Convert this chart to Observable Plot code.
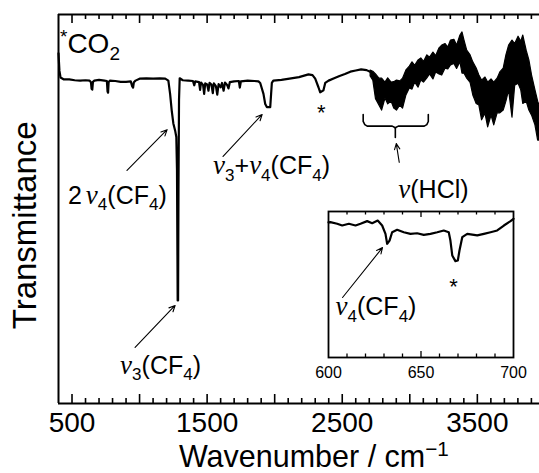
<!DOCTYPE html>
<html><head><meta charset="utf-8">
<script src="https://cdn.jsdelivr.net/npm/d3@7"></script>
<script src="https://cdn.jsdelivr.net/npm/@observablehq/plot@0.6"></script>
<style>
body{margin:0;background:#fff;overflow:hidden}
#wrap{position:relative;width:539px;height:473px;overflow:hidden;background:#fff}
#wrap svg{position:absolute;overflow:visible}
</style></head><body><div id="wrap"></div>
<script>
// ---------- spectrum (wavenumber / transmittance, arbitrary 0-100 scale) ----------
const mainWn = [400,403,407,415,440,480,520,560,600,630,640,645,650,655,665,700,740,758,763,767,771,780,820,860,900,935,945,952,958,970,1000,1050,1100,1150,1190,1213,1226,1238,1250,1263,1272,1277,1282,1285,1288,1292,1297,1320,1360,1395,1405,1412,1440,1448,1455,1470,1478,1486,1500,1510,1518,1532,1542,1550,1565,1575,1585,1600,1610,1622,1632,1648,1658,1668,1700,1735,1742,1750,1800,1850,1880,1893,1917,1930,1942,1967,1979,1990,2050,2110,2180,2250,2280,2300,2324,2337,2361,2374,2399,2440,2480,2520,2560,2600,2640,2680,2710];
const mainT  = [90.0,88.0,85.5,83.8,83.3,83.3,83.1,83.0,83.1,83.0,82.6,80.9,80.7,82.7,83.0,83.2,83.0,82.9,80.2,79.9,82.6,83.0,82.9,82.7,82.7,82.8,81.6,81.2,82.6,83.0,83.5,83.6,83.5,83.6,83.5,83.0,79.6,75.3,72.0,70.2,68.5,60.0,26.5,26.5,55.0,78.0,83.6,83.1,83.0,82.9,81.8,82.8,82.6,80.6,82.5,81.9,79.6,82.3,82.0,80.4,82.4,82.0,79.8,82.3,81.6,79.4,82.1,81.3,82.4,80.4,82.5,81.9,81.0,82.6,82.8,82.9,81.2,82.8,83.0,82.9,82.8,82.4,79.6,77.0,76.2,76.2,82.4,83.0,83.2,83.5,83.9,84.6,84.4,83.5,81.3,80.0,80.5,82.4,83.0,83.6,84.2,84.7,85.3,85.6,85.9,85.7,85.2];
// noisy high-wavenumber region: lower and upper envelope of the trace
const bandWn = [2710,2730,2750,2775,2795,2820,2840,2865,2885,2905,2930,2950,2975,3000,3020,3040,3065,3085,3105,3130,3150,3175,3195,3220,3240,3265,3285,3305,3330,3350,3375,3390,3405,3425,3450,3470,3495,3515,3535,3560,3580,3605,3625,3650,3670,3695,3715,3735,3760,3780,3805,3825,3840,3865,3885,3905,3930,3950,3960];
const bandLo = [84.1,83.0,78.2,76.6,75.3,78.4,76.9,77.6,75.8,75.3,76.6,75.8,79.2,81.0,80.7,82.5,81.2,83.0,82.5,83.6,84.6,83.3,85.1,84.6,84.3,86.1,85.9,86.9,87.3,86.0,87.7,84.8,84.8,83.5,82.4,79.2,77.0,76.6,72.8,74.5,71.0,74.0,71.5,74.6,74.6,75.3,77.6,80.5,73.5,81.7,82.2,80.5,77.0,77.6,75.3,74.0,71.5,67.6,67.6];
const bandHi = [85.6,85.3,84.6,83.5,83.5,82.5,83.6,82.5,82.6,83.0,82.8,83.5,85.6,86.6,87.7,86.8,88.2,88.7,87.8,89.5,88.9,90.2,89.3,91.3,92.0,92.4,91.5,93.3,93.5,92.0,94.6,95.4,93.3,90.7,89.5,87.7,86.1,84.3,83.0,83.8,82.5,83.3,82.5,83.5,85.1,86.1,89.5,92.0,93.3,92.4,94.3,93.0,94.6,90.7,88.2,84.3,80.5,77.6,76.6];
// inset 600-700 cm-1
const insetWn = [600,601,604.7,607.4,611,614.6,617.3,620.9,623.6,626.6,629,630.8,631.7,633,634.4,637.1,640.7,644.3,647.9,651.5,655.1,658.8,662.3,665,665.9,666.9,668.6,669.9,670.8,672.3,675,680.4,684,687.6,691.2,694.8,698.4,700];
const insetT  = [92.5,92.7,91.6,90.4,91.6,90.4,91.6,93.4,92.0,93.8,90.4,84.7,77.9,80.1,85.8,87.5,85.8,84.7,85.1,84.0,84.7,85.8,87.0,85.8,80.1,69.9,66.0,66.4,73.3,82.4,84.7,83.6,84.7,85.8,87.0,90.4,93.4,95.0];
// tick labels
const mainTickLabels = [500,1500,2500,3500];
const insetTickLabels = [600,650,700];
const xTitle = "Wavenumber / cm^{−1}";
const yTitle = "Transmittance";

// ---------- annotation layout ----------
const mainNotes = [
  {text:"^*CO_2", wn:411, t:90.2, size:28},
  {text:"2ν_4(CF_4)", wn:470, t:51.4, size:25},
  {text:"ν_3(CF_4)", wn:856, t:7.7, size:25},
  {text:"ν_3+ν_4(CF_4)", wn:1544, t:58.9, size:25},
  {text:"ν(HCl)", wn:2915, t:52.7, size:25}
];
const mainStars = [{text:"*", wn:2344, t:73.0}];
const mainArrows = [
  {x1:907, y1:59.9, x2:1204, y2:70.4},
  {x1:967, y1:14.4, x2:1263, y2:25.2},
  {x1:1618, y1:63.5, x2:1907, y2:74.3},
  {x1:2922, y1:62.0, x2:2900, y2:66.8}
];
const bracketWn = [2655,2655,2667,2685,2870,2889,2893,2893,2893,2896,2915,3107,3126,3137,3137];
const bracketT  = [74.3,72.5,71.7,71.3,71.3,70.95,70.6,68.4,70.6,70.95,71.3,71.3,71.7,72.5,74.3];
const insetNotes = [{text:"ν_4(CF_4)", wn:603.8, t:28.8, size:25}];
const insetStars = [{text:"*", wn:667.6, t:43.2}];
const insetArrows = [{x1:607.6, y1:41.1, x2:629.2, y2:75.3}];

// ---------- build ----------
const mainSpec = mainWn.map((w,i)=>({w, t:mainT[i]}));
const band = bandWn.map((w,i)=>({w, lo:bandLo[i], hi:bandHi[i]}));
const insetSpec = insetWn.map((w,i)=>({w, t:insetT[i]}));
const bracket = bracketWn.map((w,i)=>({w, t:bracketT[i]}));

const majorTicks = d3.range(500, 4000, 500);
const minorTicks = d3.range(500, 4000, 100).filter(d => d % 500 !== 0);
const inMinor = d3.range(610, 700, 10).filter(d => d !== 650);
const inMajor = [650];
const FONT = "Liberation Sans, Arial, Helvetica, sans-serif";
const IH = 473 - 14 - 70;

const main = Plot.plot({
  width: 539, height: 473, marginLeft: 58, marginRight: 0, marginTop: 14, marginBottom: 70,
  x: {domain: [400, 3960], axis: null},
  y: {domain: [0, 100], axis: null},
  style: {background: "transparent", fontFamily: FONT, overflow: "visible"},
  marks: [
    Plot.areaY(band, {x: "w", y1: "lo", y2: "hi", fill: "black", stroke: "black", strokeWidth: 1.2}),
    Plot.line(mainSpec, {x: "w", y: "t", stroke: "black", strokeWidth: 2.2, strokeLinejoin: "round"}),
    Plot.ruleX(minorTicks, {stroke: "black", strokeWidth: 1.6, insetTop: IH - 5}),
    Plot.ruleX(majorTicks, {stroke: "black", strokeWidth: 1.6, insetTop: IH - 9}),
    Plot.ruleX(minorTicks, {stroke: "black", strokeWidth: 1.6, insetBottom: IH - 5}),
    Plot.ruleX(majorTicks, {stroke: "black", strokeWidth: 1.6, insetBottom: IH - 9}),
    Plot.ruleY([0, 100], {stroke: "black", strokeWidth: 2}),
    Plot.ruleX([400], {stroke: "black", strokeWidth: 2}),
    Plot.arrow(mainArrows, {x1: "x1", y1: "y1", x2: "x2", y2: "y2", stroke: "black", strokeWidth: 1.1, headLength: 9, headAngle: 50}),
    Plot.line(bracket, {x: "w", y: "t", stroke: "black", strokeWidth: 1.6, curve: "linear"}),
    Plot.text(mainNotes, {x: "wn", y: "t", text: "text", fontSize: "size", textAnchor: "start", lineAnchor: "bottom", fill: "black"}),
    Plot.text(mainStars, {x: "wn", y: "t", text: "text", fontSize: 22, textAnchor: "middle", lineAnchor: "bottom", fill: "black"}),
    Plot.text(mainTickLabels, {x: d => d, text: d => String(d), frameAnchor: "bottom", textAnchor: "middle", lineAnchor: "bottom", dy: 28, fontSize: 28, fill: "black"}),
    Plot.text([xTitle], {x: () => 2290, text: d => d, frameAnchor: "bottom", textAnchor: "middle", lineAnchor: "bottom", dy: 63, fontSize: 30.5, fill: "black"}),
    Plot.text([yTitle], {y: () => 45.8, text: d => d, frameAnchor: "left", textAnchor: "middle", lineAnchor: "bottom", rotate: -90, dx: -23, fontSize: 33, fill: "black"})
  ]
});

const IIH = 146;
const inset = Plot.plot({
  width: 215, height: 181, marginLeft: 15, marginRight: 15, marginTop: 5, marginBottom: 30,
  x: {domain: [600, 700], axis: null},
  y: {domain: [0, 100], axis: null},
  style: {background: "transparent", fontFamily: FONT, overflow: "visible"},
  marks: [
    Plot.frame({fill: "white", stroke: null}),
    Plot.line(insetSpec, {x: "w", y: "t", stroke: "black", strokeWidth: 2.2, strokeLinejoin: "round"}),
    Plot.ruleX(inMinor, {stroke: "black", strokeWidth: 1.3, insetTop: IIH - 3.5}),
    Plot.ruleX(inMajor, {stroke: "black", strokeWidth: 1.3, insetTop: IIH - 6}),
    Plot.ruleX(inMinor, {stroke: "black", strokeWidth: 1.3, insetBottom: IIH - 3.5}),
    Plot.ruleX(inMajor, {stroke: "black", strokeWidth: 1.3, insetBottom: IIH - 6}),
    Plot.frame({stroke: "black", strokeWidth: 1.8}),
    Plot.arrow(insetArrows, {x1: "x1", y1: "y1", x2: "x2", y2: "y2", stroke: "black", strokeWidth: 1.1, headLength: 9, headAngle: 50}),
    Plot.text(insetNotes, {x: "wn", y: "t", text: "text", fontSize: "size", textAnchor: "start", lineAnchor: "bottom", fill: "black"}),
    Plot.text(insetStars, {x: "wn", y: "t", text: "text", fontSize: 22, textAnchor: "middle", lineAnchor: "bottom", fill: "black"}),
    Plot.text(insetTickLabels, {x: d => d, text: d => String(d), frameAnchor: "bottom", textAnchor: "middle", lineAnchor: "bottom", dy: 20, fontSize: 16, fill: "black"})
  ]
});

const wrap = document.getElementById("wrap");
main.style.left = "0px"; main.style.top = "0px";
inset.style.left = "313px"; inset.style.top = "206px";
wrap.appendChild(main);
wrap.appendChild(inset);

// ---------- rich text: italic nu, sub/superscripts ----------
const NS = "http://www.w3.org/2000/svg";
function rich(el) {
  const s = el.textContent;
  if (!/[_^ν]/.test(s)) return;
  const fs = parseFloat(getComputedStyle(el).fontSize) || 25;
  const segs = [];
  let i = 0;
  while (i < s.length) {
    const c = s[i];
    if (c === "_" || c === "^") {
      let content;
      if (s[i+1] === "{") { const j = s.indexOf("}", i); content = s.slice(i+2, j); i = j + 1; }
      else { content = s[i+1]; i += 2; }
      segs.push({t: content, kind: c === "_" ? "sub" : "sup"});
    } else if (c === "ν") { segs.push({t: c, kind: "nu"}); i++; }
    else { let j = i; while (j < s.length && !"_^ν".includes(s[j])) j++; segs.push({t: s.slice(i, j), kind: "n"}); i = j; }
  }
  el.textContent = "";
  let shift = 0;
  for (const g of segs) {
    const ts = document.createElementNS(NS, "tspan");
    const target = g.kind === "sub" ? fs * 0.26 : g.kind === "sup" ? -fs * 0.36 : 0;
    if (target - shift !== 0) ts.setAttribute("dy", (target - shift).toFixed(2));
    shift = target;
    if (g.kind === "sub" || g.kind === "sup") ts.setAttribute("font-size", (fs * 0.68).toFixed(1));
    if (g.kind === "nu") { ts.setAttribute("font-family", "Liberation Serif, Times New Roman, serif"); ts.setAttribute("font-style", "italic"); ts.setAttribute("font-size", (fs * 1.08).toFixed(1)); }
    ts.textContent = g.t;
    if (g.kind === "nu" && segs.indexOf(g) > 0 && segs[segs.indexOf(g)-1].t === "2") ts.setAttribute("dx", "4");
    el.appendChild(ts);
  }
}
wrap.querySelectorAll("text").forEach(rich);
</script>
</body></html>
